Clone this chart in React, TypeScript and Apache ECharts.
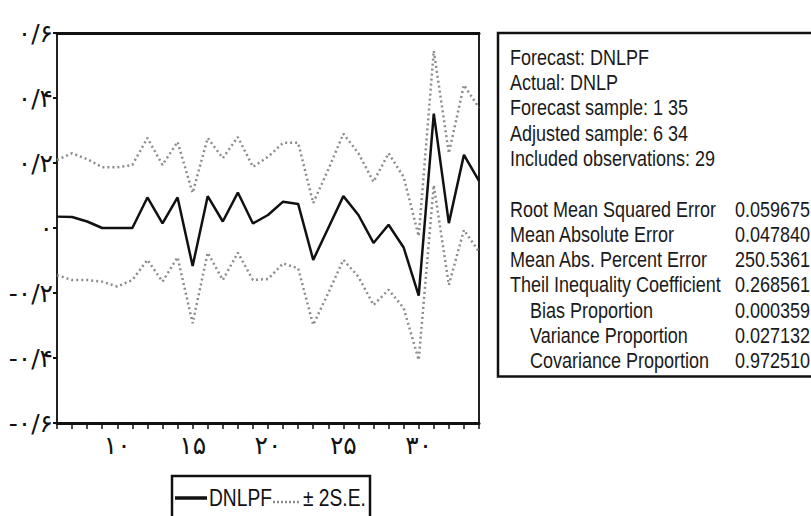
import React, { useEffect, useRef } from "react";
import * as echarts from "echarts";

// ---- data ----
const observations = [6, 7, 8, 9, 10, 11, 12, 13, 14, 15, 16, 17, 18, 19, 20, 21, 22, 23, 24, 25, 26, 27, 28, 29, 30, 31, 32, 33, 34];
const forecastValues = [0.035, 0.034, 0.02, 0.0, 0.0, 0.0, 0.094, 0.014, 0.094, -0.117, 0.098, 0.02, 0.109, 0.014, 0.04, 0.081, 0.074, -0.098, 0.0, 0.098, 0.04, -0.046, 0.01, -0.06, -0.208, 0.352, 0.015, 0.225, 0.145];
const upperBand = [0.209, 0.23, 0.212, 0.187, 0.187, 0.194, 0.277, 0.194, 0.265, 0.108, 0.277, 0.215, 0.28, 0.188, 0.219, 0.262, 0.262, 0.077, 0.18, 0.29, 0.23, 0.142, 0.23, 0.157, -0.025, 0.545, 0.23, 0.44, 0.37];
const lowerBand = [-0.145, -0.16, -0.16, -0.165, -0.18, -0.16, -0.098, -0.165, -0.09, -0.293, -0.076, -0.16, -0.076, -0.16, -0.157, -0.109, -0.124, -0.298, -0.2, -0.098, -0.15, -0.237, -0.19, -0.246, -0.406, 0.132, -0.175, -0.006, -0.073];

const seriesNames = ["DNLPF", "± 2S.E."];

const infoLines = [
  "Forecast: DNLPF",
  "Actual: DNLP",
  "Forecast sample: 1 35",
  "Adjusted sample: 6 34",
  "Included observations: 29",
];
const statLabels = [
  "Root Mean Squared Error",
  "Mean Absolute Error",
  "Mean Abs. Percent Error",
  "Theil Inequality Coefficient",
  "Bias Proportion",
  "Variance Proportion",
  "Covariance Proportion",
];
const statValues = ["0.059675", "0.047840", "250.5361", "0.268561", "0.000359", "0.027132", "0.972510"];

const faDigits = "۰۱۲۳۴۵۶۷۸۹";
const toPersian = (s: string) => s.replace(/\d/g, (d) => faDigits[Number(d)]).replace(".", "/");

const SANS = "'Liberation Sans', Arial, sans-serif";
const PERSIAN = "'DejaVu Sans', 'Noto Sans', sans-serif";

export default function App() {
  const ref = useRef<HTMLDivElement>(null);

  useEffect(() => {
    if (!ref.current) return;
    const chart = echarts.init(ref.current, undefined, { renderer: "svg" });

    const pairs = (vals: number[]) => observations.map((x, i) => [x, vals[i]]);

    // statistics box (narrow type imitated with a horizontal squeeze)
    const boxX = 498;
    const boxY = 33;
    const textX = 510;
    const rowStart = 57;
    const rowStep = 25.3;
    const squeeze = 0.8;
    const txtStyle = { fontSize: 22.5, lineHeight: 22, fontFamily: SANS, fill: "#1a1a1a", verticalAlign: "middle" };
    const textEls: any[] = [];
    infoLines.forEach((t, i) => {
      textEls.push({
        type: "text",
        x: textX,
        y: rowStart + i * rowStep,
        scaleX: squeeze,
        style: { ...txtStyle, text: t, align: "left" },
      });
    });
    statLabels.forEach((t, i) => {
      const y = rowStart + (infoLines.length + 1 + i) * rowStep;
      textEls.push({
        type: "text",
        x: textX + (i >= 4 ? 20 : 0),
        y,
        scaleX: squeeze,
        style: { ...txtStyle, text: t, align: "left" },
      });
      textEls.push({
        type: "text",
        x: 810,
        y,
        scaleX: squeeze,
        style: { ...txtStyle, text: statValues[i], align: "right" },
      });
    });
    const boxBottom = rowStart + (infoLines.length + statLabels.length) * rowStep + 16;

    // legend box drawn with graphic elements
    const legY = 498;
    const legendEls: any[] = [
      {
        type: "rect",
        shape: { x: 172, y: 476, width: 198, height: 60 },
        style: { fill: "#fff", stroke: "#111", lineWidth: 2.5 },
      },
      {
        type: "line",
        shape: { x1: 175, y1: legY, x2: 207, y2: legY },
        style: { stroke: "#111", lineWidth: 3.5 },
      },
      {
        type: "text",
        x: 209,
        y: legY,
        scaleX: squeeze,
        style: { text: seriesNames[0], fontSize: 24, fontFamily: SANS, fill: "#111", verticalAlign: "middle", align: "left" },
      },
      {
        type: "line",
        shape: { x1: 273, y1: legY + 4, x2: 300, y2: legY + 4 },
        style: { stroke: "#8c8c8c", lineWidth: 2.5, lineDash: [2, 2] },
      },
      {
        type: "text",
        x: 303,
        y: legY,
        scaleX: squeeze,
        style: { text: seriesNames[1], fontSize: 24, fontFamily: SANS, fill: "#111", verticalAlign: "middle", align: "left" },
      },
    ];

    chart.setOption({
      animation: false,
      backgroundColor: "#fff",
      grid: {
        left: 57,
        right: 332,
        top: 33,
        bottom: 93,
        show: true,
        borderColor: "#222",
        borderWidth: 2,
        containLabel: false,
      },
      xAxis: [
        {
          type: "value",
          min: 6,
          max: 34,
          interval: 1,
          splitLine: { show: false },
          axisLine: { show: true, onZero: false, lineStyle: { color: "#111", width: 3 } },
          axisTick: { show: true, inside: false, length: 6, lineStyle: { color: "#111", width: 1.5 } },
          axisLabel: {
            margin: 10,
            fontSize: 25,
            fontFamily: PERSIAN,
            color: "#111",
            showMinLabel: true,
            showMaxLabel: true,
            formatter: (v: number) => (v % 5 === 0 ? toPersian(String(v)) : ""),
          },
        },
        {
          type: "value",
          position: "top",
          min: 6,
          max: 34,
          interval: 1,
          splitLine: { show: false },
          axisLine: { show: true, onZero: false, lineStyle: { color: "#111", width: 3 } },
          axisTick: { show: false },
          axisLabel: { show: false },
        },
      ],
      yAxis: {
        type: "value",
        min: -0.6,
        max: 0.6,
        interval: 0.2,
        splitLine: { show: false },
        axisLine: { show: true, onZero: false, lineStyle: { color: "#222", width: 2 } },
        axisTick: { show: true, inside: false, length: 4, lineStyle: { color: "#111", width: 2 } },
        axisLabel: {
          margin: 4,
          fontSize: 25,
          fontFamily: PERSIAN,
          color: "#111",
          formatter: (v: number) => {
            const r = Math.round(v * 10) / 10;
            if (r === 0) return "۰";
            return toPersian(String(r));
          },
        },
      },
      series: [
        {
          name: seriesNames[0],
          type: "line",
          data: pairs(forecastValues),
          symbol: "none",
          lineStyle: { color: "#111", width: 2.5 },
          itemStyle: { color: "#111" },
          z: 3,
        },
        {
          name: seriesNames[1],
          type: "line",
          data: pairs(upperBand),
          symbol: "none",
          lineStyle: { color: "#8c8c8c", width: 2.5, type: [2, 3] },
          itemStyle: { color: "#8c8c8c" },
        },
        {
          name: seriesNames[1],
          type: "line",
          data: pairs(lowerBand),
          symbol: "none",
          lineStyle: { color: "#8c8c8c", width: 2.5, type: [2, 3] },
          itemStyle: { color: "#8c8c8c" },
        },
      ],
      graphic: [
        {
          type: "rect",
          shape: { x: boxX, y: boxY, width: 400, height: boxBottom - boxY },
          style: { fill: "#fff", stroke: "#111", lineWidth: 2.5 },
        },
        ...textEls,
        ...legendEls,
      ],
    });

    return () => chart.dispose();
  }, []);

  return (
    <div
      ref={ref}
      style={{ position: "fixed", left: 0, top: 0, width: 811, height: 516, background: "#fff" }}
    />
  );
}
